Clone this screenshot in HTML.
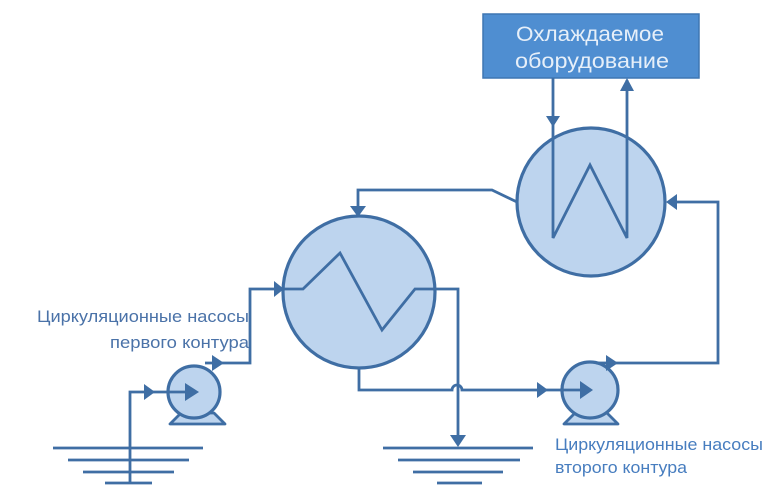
<!DOCTYPE html>
<html><head><meta charset="utf-8"><style>
html,body{margin:0;padding:0;background:#fff;}
svg{display:block;}
</style></head><body>
<svg width="774" height="501" viewBox="0 0 774 501" xmlns="http://www.w3.org/2000/svg">
<defs>
<style>
.ln{stroke:#3f6ea4;stroke-width:2.8;fill:none;}
.ci{stroke:#3f6ea4;stroke-width:3.2;fill:#bdd4ee;}
.ah{fill:#3f6ea4;}
</style>
</defs>
<rect width="774" height="501" fill="#fff"/>

<!-- top box -->
<rect x="483" y="14" width="216" height="64" fill="#4f8ed1" stroke="#3f76b3" stroke-width="1.5"/>
<text x="516" y="41" font-family="Liberation Sans, sans-serif" font-size="21" fill="#e6eff9" textLength="148" lengthAdjust="spacingAndGlyphs">Охлаждаемое</text>
<text x="515" y="68" font-family="Liberation Sans, sans-serif" font-size="21" fill="#e6eff9" textLength="154" lengthAdjust="spacingAndGlyphs">оборудование</text>

<!-- right exchanger -->
<circle class="ci" cx="591" cy="202" r="74"/>
<polyline class="ln" points="553,78 553,238 590,165 627,238 627,80"/>
<polygon class="ah" points="546,116 560,116 553,127"/>
<polygon class="ah" points="620,91 634,91 627,78"/>

<!-- line from right exchanger to left exchanger top -->
<polyline class="ln" points="517,202 492,190 358,190 358,210"/>
<polygon class="ah" points="350,206 366,206 358,217"/>

<!-- return line to right exchanger -->
<polyline class="ln" points="610,363 718,363 718,202 672,202"/>
<polygon class="ah" points="677,194 677,210 666,202"/>

<!-- left exchanger -->
<circle class="ci" cx="359" cy="292" r="76"/>
<polyline class="ln" points="283,289 303,289 340,253 382,330 415,289 458,289 458,440"/>
<polygon class="ah" points="450,435 466,435 458,447"/>

<!-- input to left exchanger -->
<polyline class="ln" points="205,363 250,363 250,289 278,289"/>
<polygon class="ah" points="274,281 274,297 284,289"/>

<!-- bottom line from left exchanger to pump 2 with hop -->
<path class="ln" d="M359,368 L359,390 L452,390 A5,5 0 0 1 462,390 L585,390"/>
<polygon class="ah" points="537,382 537,398 548,390"/>

<!-- pump 1 -->
<polygon points="170,424 225,424 214,413 181,413" fill="#bdd4ee" stroke="#3f6ea4" stroke-width="2.8" stroke-linejoin="round"/>
<circle class="ci" cx="194" cy="392" r="26"/>
<polygon class="ah" points="212,355 212,371 224,363"/>
<polyline class="ln" points="130,483 130,392 192,392"/>
<polygon class="ah" points="144,384 144,400 155,392"/>
<polygon class="ah" points="185,383 185,401 199,392"/>

<!-- pump 2 -->
<polygon points="564,424 618,424 607,413 575,413" fill="#bdd4ee" stroke="#3f6ea4" stroke-width="2.8" stroke-linejoin="round"/>
<circle class="ci" cx="590" cy="390" r="28"/>
<line class="ln" x1="560" y1="390" x2="584" y2="390"/>
<polygon class="ah" points="580,381 580,399 593,390"/>
<line class="ln" x1="596" y1="363" x2="612" y2="363"/>
<polygon class="ah" points="606,355 606,371 618,363"/>

<!-- ground 1 -->
<g class="ln">
<line x1="53" y1="448" x2="203" y2="448"/>
<line x1="68" y1="460" x2="189" y2="460"/>
<line x1="83" y1="472" x2="174" y2="472"/>
<line x1="105" y1="483" x2="152" y2="483"/>
</g>
<!-- ground 2 -->
<g class="ln">
<line x1="383" y1="448" x2="533" y2="448"/>
<line x1="398" y1="460" x2="520" y2="460"/>
<line x1="413" y1="472" x2="503" y2="472"/>
<line x1="437" y1="483" x2="482" y2="483"/>
</g>

<!-- labels -->
<text x="37" y="322" font-family="Liberation Sans, sans-serif" font-size="17" fill="#4a72a8" textLength="212" lengthAdjust="spacingAndGlyphs">Циркуляционные насосы</text>
<text x="110" y="348" font-family="Liberation Sans, sans-serif" font-size="17" fill="#4a72a8" textLength="139" lengthAdjust="spacingAndGlyphs">первого контура</text>
<text x="555" y="450" font-family="Liberation Sans, sans-serif" font-size="17" fill="#477dbf" textLength="208" lengthAdjust="spacingAndGlyphs">Циркуляционные насосы</text>
<text x="555" y="473" font-family="Liberation Sans, sans-serif" font-size="17" fill="#477dbf" textLength="132" lengthAdjust="spacingAndGlyphs">второго контура</text>
</svg>
</body></html>
